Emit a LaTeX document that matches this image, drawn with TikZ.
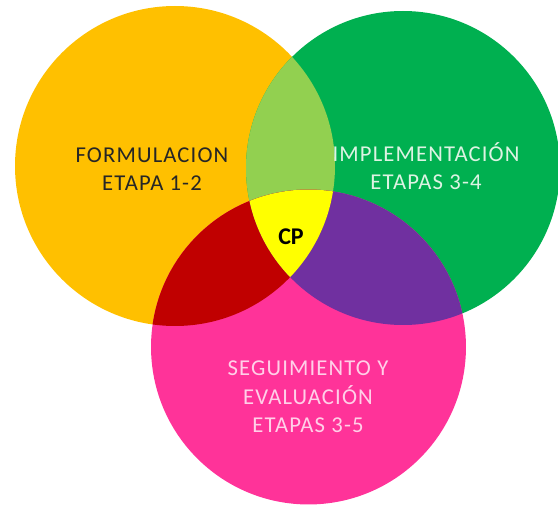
\documentclass[tikz,border=0pt]{standalone}
\usepackage{fontspec}
\setmainfont{Carlito}
\usepackage{tikz}
\usetikzlibrary{positioning}
\definecolor{formcol}{HTML}{FFC000}
\definecolor{implcol}{HTML}{00B050}
\definecolor{segcol}{HTML}{FF3399}
\definecolor{fimcol}{HTML}{92D050}
\definecolor{fsecol}{HTML}{C00000}
\definecolor{isecol}{HTML}{7030A0}
\definecolor{cpcol}{HTML}{FFFF00}
\definecolor{txtdark}{HTML}{262626}
\definecolor{txtgreen}{HTML}{DDF3E3}
\definecolor{txtpink}{HTML}{FFD0E8}

\begin{document}
\begin{tikzpicture}[x=0.75pt,y=-0.75pt,
  lbl/.style={align=center,inner sep=0pt,
    font=\fontsize{17}{21.3}\selectfont\addfontfeatures{LetterSpace=5}}]
\useasboundingbox(0,0)rectangle(558,506);
\coordinate(o)at(175,166);
\coordinate(g)at(403,168);
\coordinate(p)at(308.5,347);
%circles
\fill[formcol](o)circle[radius=120pt];
\fill[implcol](g)circle[radius=117.75pt];
\fill[segcol](p)circle[radius=118.1pt];
%overlaps
\begin{scope}\clip(o)circle[radius=120pt];
\fill[fimcol](g)circle[radius=117.75pt];
\fill[fsecol](p)circle[radius=118.1pt];
\end{scope}
\begin{scope}\clip(g)circle[radius=117.75pt];
\fill[isecol](p)circle[radius=118.1pt];
\clip(o)circle[radius=120pt];
\fill[cpcol](p)circle[radius=118.1pt];
\end{scope}
%labels
\node[lbl,text=txtdark](formul)at(152,169){FORMULACION\\ETAPA 1-2};
\node[lbl,text=txtgreen](implem)at(426,166){IMPLEMENTACIÓN\\ETAPAS 3-4};
\node[lbl,text=txtpink](seguim)at(308,397){SEGUIMIENTO Y\\EVALUACIÓN\\ETAPAS 3-5};
\node[lbl,font=\fontsize{18}{21}\selectfont\bfseries](cp)at(291,237){CP};
\end{tikzpicture}
\end{document}
